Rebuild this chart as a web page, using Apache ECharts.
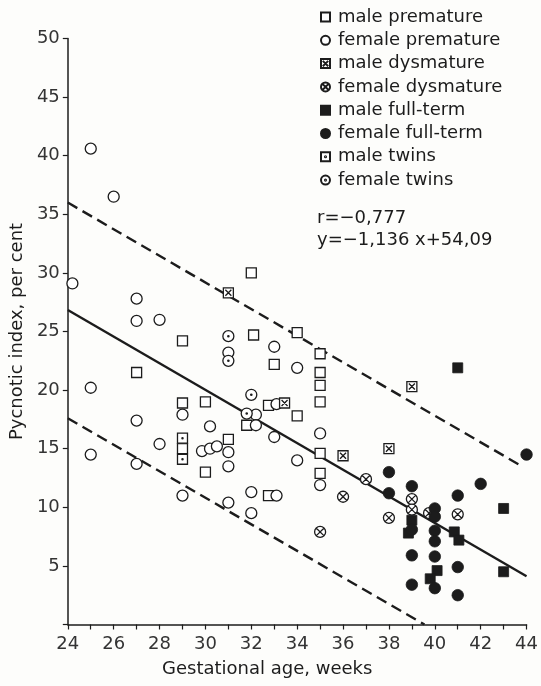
<!DOCTYPE html>
<html>
<head>
<meta charset="utf-8">
<script src="https://cdn.jsdelivr.net/npm/echarts@6/dist/echarts.min.js"></script>
<style>
html, body { margin: 0; padding: 0; background: #fdfdfb; }
#graph { width: 541px; height: 686px; }
</style>
</head>
<body>
<div id="graph"></div>
<script>
// points: [gestational age (weeks), pycnotic index (%)]
var malePremature = [[32,30.0],[29,24.2],[32.1,24.7],[27,21.5],[33,22.2],[34,24.9],[35,23.1],[35,21.5],[35,20.4],[35,19.0],
  [34,17.8],[29,18.9],[30,19.0],[32.75,18.7],[31.8,17.0],[31,15.8],[29,15.0],[30,13.0],[35,14.6],[35,12.9],[32.75,11.0]];
var femalePremature = [[24.2,29.1],[25,40.6],[26,36.5],[27,27.8],[27,25.9],[28,26.0],[25,20.2],[27,17.4],[25,14.5],[27,13.7],
  [28,15.4],[29,17.9],[29,11.0],[29.85,14.8],[30.2,15.0],[30.5,15.2],[30.2,16.9],[31,23.2],[31,14.7],[31,13.5],[31,10.4],
  [32.2,17.9],[32.2,17.0],[32,11.3],[32,9.5],[33,23.7],[33.1,18.8],[33,16.0],[33.1,11.0],[34,21.9],[34,14.0],[35,16.3],[35,11.9]];
var maleDysmature = [[31,28.3],[33.45,18.9],[36,14.4],[38,15.0],[39,20.3]];
var femaleDysmature = [[37,12.4],[36,10.9],[35,7.9],[38,9.1],[39,10.7],[39,9.8],[39.75,9.5],[41,9.4]];
var maleFullTerm = [[41,21.9],[43,9.9],[43,4.5],[39,8.9],[38.85,7.8],[40.85,7.9],[41.05,7.2],[40.1,4.6],[39.8,3.9]];
var femaleFullTerm = [[38,13.0],[38,11.2],[39,11.8],[40,9.9],[40,9.2],[42,12.0],[41,11.0],[39,8.1],[40,8.0],[40,7.1],
  [39,5.9],[40,5.8],[41,4.9],[39,3.4],[40,3.1],[41,2.5],[44,14.5]];
var maleTwins = [[29,15.9],[29,14.1]];
var femaleTwins = [[31,24.6],[31,22.5],[32,19.6],[31.8,18.0]];

// regression y = -1.136x + 54.09 and the two dashed limits (end points)
var regLine = [[24,26.83],[44,4.11]];
var upperLine = [[24,36.0],[43.8,13.5]];
var lowerLine = [[24,17.6],[39.55,0]];

var xTicks = [24,26,28,30,32,34,36,38,40,42,44];

var ink = '#1c1c1c';
var font = 'DejaVu Sans';

var sqCross = 'path://M0,0H10V10H0Z M2,2L8,8 M8,2L2,8';
var circCross = 'path://M5,0A5,5 0 1,1 5,10A5,5 0 1,1 5,0Z M1.6,1.6L8.4,8.4 M8.4,1.6L1.6,8.4';
var sqDot = 'path://M0,0H10V10H0Z M5,4.4A0.6,0.6 0 1,1 5,5.6A0.6,0.6 0 1,1 5,4.4Z';
var circDot = 'path://M5,0A5,5 0 1,1 5,10A5,5 0 1,1 5,0Z M5,4.4A0.6,0.6 0 1,1 5,5.6A0.6,0.6 0 1,1 5,4.4Z';

function pts(name, data, symbol, size, filled) {
  return {
    name: name, type: 'scatter', data: data, symbol: symbol, symbolSize: size, z: filled ? 4 : 3,
    itemStyle: { color: filled ? ink : '#fff', borderColor: ink, borderWidth: filled ? 0.8 : 1.3, opacity: 1 },
    emphasis: { disabled: true }
  };
}
function line(data, dashed) {
  return {
    type: 'line', data: data, symbol: 'none', silent: true, z: 2,
    lineStyle: { color: ink, width: 2.4, type: dashed ? [11, 6] : 'solid' }
  };
}

var myChart = echarts.init(document.getElementById('graph'));
var option = {
  animation: false,
  backgroundColor: '#fdfdfb',
  grid: { left: 64.5, right: 9.5, top: 38.5, bottom: 61.5 },
  legend: {
    orient: 'vertical', left: 315, top: 3, itemWidth: 9, itemHeight: 9, itemGap: 5.3,
    data: ['male premature','female premature','male dysmature','female dysmature','male full-term','female full-term','male twins','female twins'],
    textStyle: { fontFamily: font, fontSize: 18, color: ink, lineHeight: 18, padding: [0,0,0,3] },
    selectedMode: false
  },
  graphic: [
    { type: 'text', left: 317, top: 209, style: { text: 'r=−0,777', fontFamily: font, fontSize: 18, fill: ink } },
    { type: 'text', left: 317, top: 231, style: { text: 'y=−1,136 x+54,09', fontFamily: font, fontSize: 18, fill: ink } }
  ],
  xAxis: {
    type: 'value', min: 24, max: 44, interval: 1,
    name: 'Gestational age, weeks', nameLocation: 'middle', nameGap: 36,
    nameTextStyle: { fontFamily: font, fontSize: 18, color: ink, padding: [0, 60, 0, 0] },
    axisLine: { lineStyle: { color: ink, width: 1.5 } },
    axisTick: { length: 5, lineStyle: { color: ink, width: 1.2 } },
    axisLabel: { fontFamily: font, fontSize: 18, color: '#333', margin: 11,
      formatter: function (v) { return xTicks.indexOf(v) >= 0 ? String(v) : ''; } },
    splitLine: { show: false }
  },
  yAxis: {
    type: 'value', min: 0, max: 50, interval: 5,
    name: 'Pycnotic index, per cent', nameLocation: 'middle', nameGap: 38,
    nameTextStyle: { fontFamily: font, fontSize: 18, color: ink },
    axisLine: { show: true, lineStyle: { color: ink, width: 1.5 } },
    axisTick: { show: true, length: 5, lineStyle: { color: ink, width: 1.2 } },
    axisLabel: { fontFamily: font, fontSize: 18, color: '#333', margin: 8,
      formatter: function (v) { return v === 0 ? '' : String(v); } },
    splitLine: { show: false }
  },
  series: [
    line(regLine, false),
    line(upperLine, true),
    line(lowerLine, true),
    pts('male premature', malePremature, 'rect', 10, false),
    pts('female premature', femalePremature, 'circle', 11, false),
    pts('male dysmature', maleDysmature, sqCross, 10, false),
    pts('female dysmature', femaleDysmature, circCross, 11, false),
    pts('male full-term', maleFullTerm, 'rect', 10, true),
    pts('female full-term', femaleFullTerm, 'circle', 11.5, true),
    pts('male twins', maleTwins, sqDot, 10, false),
    pts('female twins', femaleTwins, circDot, 11, false)
  ]
};
myChart.setOption(option);
</script>
</body>
</html>
